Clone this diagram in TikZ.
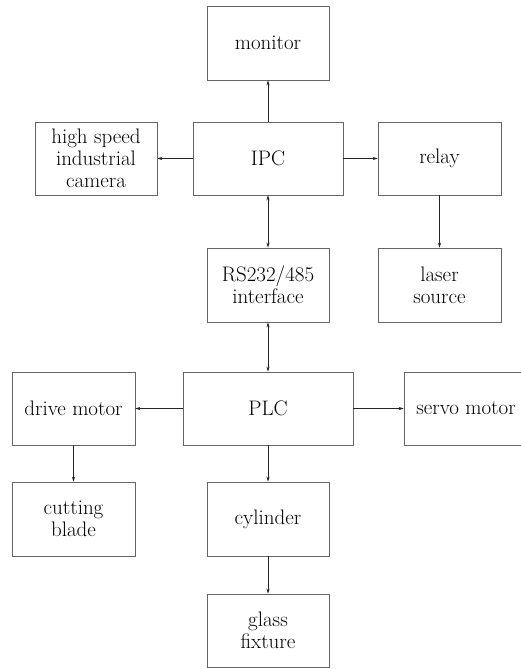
\documentclass[tikz,border=0pt]{standalone}
\usetikzlibrary{arrows.meta}
\begin{document}
\begin{tikzpicture}[x=1pt,y=-1pt,
  box/.style={draw=black!60, line width=0.8pt, inner sep=0pt, align=center,
    font=\fontsize{21}{22}\selectfont},
  conn/.style={draw=black!85, line width=0.7pt, -{Stealth[length=5pt,width=3.2pt]}},
  bconn/.style={draw=black!85, line width=0.7pt, {Stealth[length=5pt,width=3.2pt]}-{Stealth[length=5pt,width=3.2pt]}}]
\useasboundingbox (0,0) rectangle (521,669);
\node[box, minimum width=122pt, minimum height=74pt] (monitor) at (268,43) {monitor};
\node[box, minimum width=122pt, minimum height=73pt] (camera) at (96,158.5) {high speed\\industrial\\camera};
\node[box, minimum width=150pt, minimum height=73pt] (ipc) at (268,158.5) {IPC};
\node[box, minimum width=123pt, minimum height=73pt] (relay) at (439.5,158.5) {relay};
\node[box, minimum width=122pt, minimum height=74pt] (rs) at (268,285) {RS232/485\\interface};
\node[box, minimum width=123pt, minimum height=74pt] (laser) at (439.5,285) {laser\\source};
\node[box, minimum width=123pt, minimum height=73pt] (drive) at (73.5,408.5) {drive motor};
\node[box, minimum width=170pt, minimum height=73pt] (plc) at (268,408.5) {PLC};
\node[box, minimum width=124pt, minimum height=73pt] (servo) at (466,408.5) {servo motor};
\node[box, minimum width=123pt, minimum height=74pt] (blade) at (73.5,519) {cutting\\blade};
\node[box, minimum width=122pt, minimum height=74pt] (cyl) at (268,519) {cylinder};
\node[box, minimum width=122pt, minimum height=73pt] (glass) at (268,630.5) {glass\\fixture};
\draw[conn] (ipc) -- (monitor);
\draw[conn] (ipc) -- (camera);
\draw[conn] (ipc) -- (relay);
\draw[bconn] (ipc) -- (rs);
\draw[conn] (relay) -- (laser);
\draw[bconn] (rs) -- (plc);
\draw[conn] (plc) -- (drive);
\draw[conn] (plc) -- (servo);
\draw[conn] (drive) -- (blade);
\draw[conn] (plc) -- (cyl);
\draw[conn] (cyl) -- (glass);
\end{tikzpicture}
\end{document}
